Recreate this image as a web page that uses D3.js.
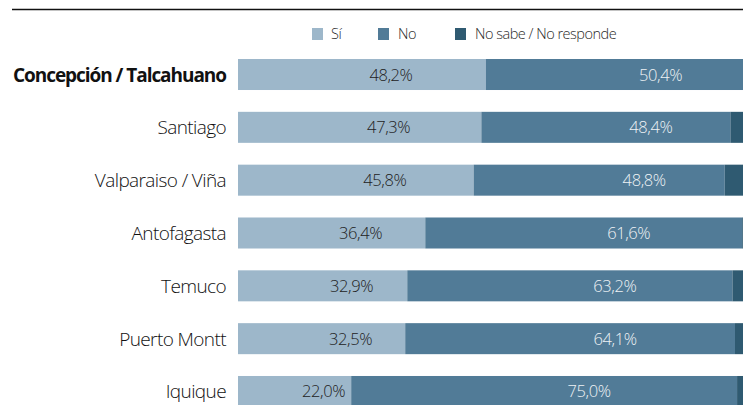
<!DOCTYPE html>
<html>
<head>
<meta charset="utf-8">
<script src="https://cdn.jsdelivr.net/npm/d3@7"></script>
<style>
  body { margin: 0; background: #fff; overflow: hidden; }
  svg { display: block; font-family: "Open Sans", sans-serif; }
</style>
</head>
<body>
<div id="chart"></div>
<script>
// data
var cities = ["Concepción / Talcahuano", "Santiago", "Valparaiso / Viña", "Antofagasta", "Temuco", "Puerto Montt", "Iquique"];
var si   = [48.2, 47.3, 45.8, 36.4, 32.9, 32.5, 22.0];
var no   = [50.4, 48.4, 48.8, 61.6, 63.2, 64.1, 75.0];
var nsnr = [1.4, 4.3, 5.4, 2.0, 3.9, 3.4, 3.0];
var seriesNames = ["Sí", "No", "No sabe / No responde"];
var colors = ["#9db7ca", "#517b97", "#2f5a71"];

var W = 743, H = 405;
var svg = d3.select("#chart").append("svg")
            .attr("width", W)
            .attr("height", H);

var x = d3.scaleLinear().domain([0, 100]).range([238, 752.5]);
var y = d3.scaleBand().domain(cities).range([59, 407])
          .paddingInner(0.413).paddingOuter(0).align(0);

// top rule
svg.append("line")
   .attr("x1", 12).attr("x2", W)
   .attr("y1", 9.5).attr("y2", 9.5)
   .attr("stroke", "#111")
   .attr("stroke-width", 1.6);

// legend
var legendX = [312, 378, 455];
seriesNames.forEach(function(name, i){
  var g = svg.append("g").attr("transform", "translate(" + legendX[i] + ",28)");
  g.append("rect").attr("width", 11).attr("height", 12).attr("fill", colors[i]);
  g.append("text")
   .attr("x", i == 0 ? 19 : 20)
   .attr("y", 11)
   .attr("font-size", "14.5px")
   .attr("font-weight", 300)
   .attr("letter-spacing", "-0.5px")
   .attr("fill", "#2a2a2a")
   .text(name);
});

var rows = cities.map(function(c, i){
  return {city: c, vals: [si[i], no[i], nsnr[i]]};
});

var row = svg.selectAll(".row").data(rows).enter().append("g")
             .attr("class", "row")
             .attr("transform", function(d){ return "translate(0," + y(d.city) + ")"; });

row.each(function(d){
  var g = d3.select(this);
  var start = 0;
  d.vals.forEach(function(v, k){
    g.append("rect")
     .attr("x", x(start))
     .attr("width", x(start + v) - x(start))
     .attr("height", y.bandwidth())
     .attr("fill", colors[k]);
    if (k < 2){
      // labels sit a little right of the segment middle, like the original
      var shift = k == 0 ? 29 : 45;
      g.append("text")
       .attr("x", (x(start) + x(start + v)) / 2 + shift)
       .attr("y", y.bandwidth() / 2 + 6)
       .attr("text-anchor", "middle")
       .attr("font-size", "16.5px")
       .attr("font-weight", 300)
       .attr("letter-spacing", "-0.4px")
       .attr("fill", k == 0 ? "#222" : "#eef2f5")
       .text(d3.format(".1f")(v).replace(".", ",") + "%");
    }
    start += v;
  });
});

// city labels
row.append("text")
   .attr("x", 226)
   .attr("y", y.bandwidth() / 2 + 7)
   .attr("text-anchor", "end")
   .attr("font-size", "19px")
   .attr("font-weight", function(d, i){ return i == 0 ? 700 : 300; })
   .attr("letter-spacing", function(d, i){ return i == 0 ? "-1.05px" : "-0.6px"; })
   .attr("fill", "#111")
   .text(function(d){ return d.city; });
</script>
</body>
</html>
